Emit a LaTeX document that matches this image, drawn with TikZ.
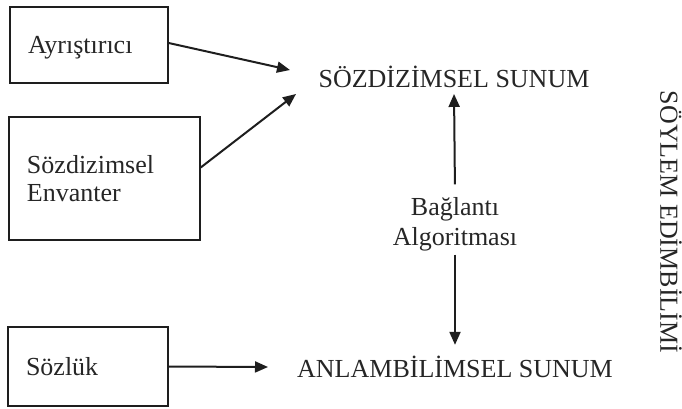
\documentclass[tikz,border=0pt]{standalone}
\usepackage{fontspec}
\setmainfont{Liberation Serif}
\usetikzlibrary{arrows.meta, calc}
\definecolor{cink}{HTML}{1E1E1E}
\definecolor{ctext}{HTML}{262626}
\tikzset{
  every picture/.style={x=1pt, y=-1pt, line width=1.4pt},
  box/.style={draw=cink, align=left, inner xsep=18pt, inner ysep=0pt,
    text=ctext, font=\fontsize{26}{28}\selectfont},
  label/.style={text=ctext, align=center, inner sep=3pt, font=\fontsize{26}{30}\selectfont},
  arrow/.style={-{Triangle[length=13pt, width=11pt]}, draw=cink, line width=2pt},
}
\newcommand{\modbox}[7][]{% options, name, x, y, text width, height, text
  \node[box, text width=#5pt, minimum height=#6pt, #1] (#2) at (#3,#4) {#7};}

\begin{document}
\begin{tikzpicture}
  \useasboundingbox (0,0) rectangle (682,408);
  % input modules on the left
  \modbox[text depth=0pt]{ayr}{89}{45}{122}{76}{Ayrıştırıcı}
  \modbox{env}{104.5}{178.5}{155}{123}{Sözdizimsel\\Envanter}
  \modbox{lex}{88}{366.5}{124}{79}{Sözlük}
  % the two representations and the linking step
  \node[label, anchor=base] (soz) at (454,87) {SÖZDİZİMSEL SUNUM};
  \node[label, anchor=base] (anlam) at (455,377) {ANLAMBİLİMSEL SUNUM};
  \node[label] (bag) at (455,224) {Bağlantı\\Algoritması};
  \node[label, rotate=-90] (soylem) at (671,222) {SÖYLEM EDİMBİLİMİ};
  \coordinate (sozin1) at (290,70);
  \coordinate (sozin2) at (296,94);
  \coordinate (anlamin) at (268,367);
  \draw[arrow] ([yshift=2pt]ayr.east) -- (sozin1);
  \draw[arrow] ([yshift=11pt]env.east) -- (sozin2);
  \draw[arrow] (lex.east) -- (anlamin);
  \draw[arrow, shorten <=9pt, shorten >=3pt] (bag.north) -- (soz.south);
  \draw[arrow, shorten >=7pt] (bag.south) -- (anlam.north);
\end{tikzpicture}
\end{document}
